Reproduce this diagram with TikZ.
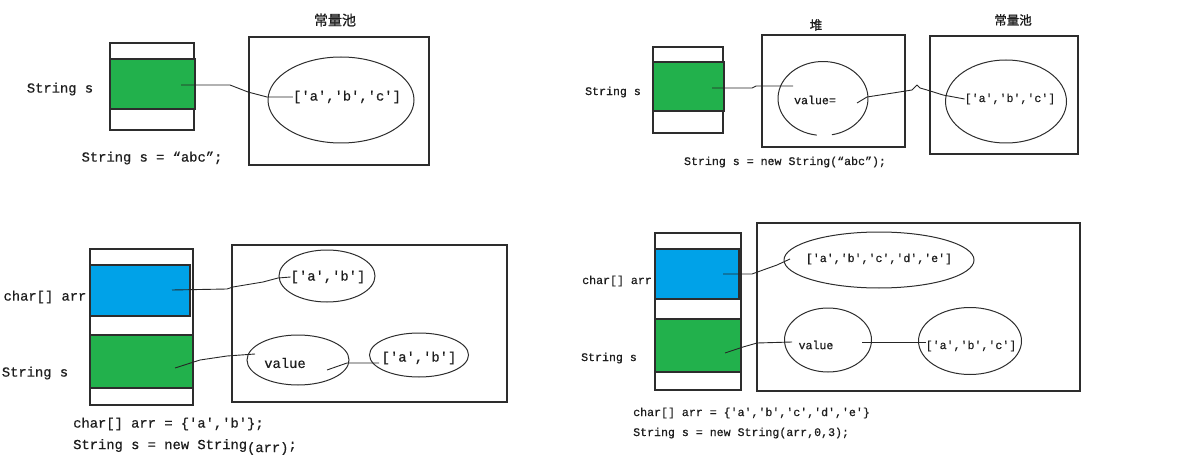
\documentclass[tikz,border=0pt]{standalone}
\usepackage{fontspec}
\newfontfamily\codefont{Liberation Mono}[FakeBold=0.6]
\newfontfamily\cjk{Noto Sans CJK SC}[FakeBold=1.2]
\usetikzlibrary{shapes.geometric}
\definecolor{pgreen}{RGB}{34,177,76}
\definecolor{pblue}{RGB}{0,162,232}
\definecolor{ink}{RGB}{45,45,45}
\definecolor{txt}{RGB}{30,30,30}
\begin{document}
\begin{tikzpicture}[x=1pt,y=-1pt,
 box/.style={rectangle, draw=ink, line width=1.2pt, inner sep=0},
 slotg/.style={box, fill=pgreen},
 slotb/.style={box, fill=pblue},
 region/.style={rectangle, draw=ink, line width=1.3pt, inner sep=0},
 oval/.style={ellipse, draw=ink, line width=1pt, inner sep=0},
 ovalline/.style={draw=ink, line width=1pt},
 big/.style={font=\codefont\fontsize{13.8}{16}\selectfont, text=txt, inner sep=0},
 small/.style={font=\codefont\fontsize{11.6}{14}\selectfont, text=txt, inner sep=0},
 zh/.style={font=\cjk\fontsize{14}{16}\selectfont, text=txt, inner sep=0},
 zhs/.style={font=\cjk\fontsize{12.5}{15}\selectfont, text=txt, inner sep=0},
 link/.style={draw=black!85, line width=0.9pt, line join=round}]
\useasboundingbox (0,0) rectangle (1193,457);

% ---------- top left ----------
\node[box, minimum width=84, minimum height=87] (stk1) at (152,86.5) {};
\node[slotg, minimum width=85, minimum height=50] (g1) at (152.5,84) {};
\node[region, minimum width=180, minimum height=128] (pool1) at (339,101) {};
\node[oval, minimum width=146, minimum height=86] (e1) at (341,100) {};
\node[big] (t1) at (347,97) {['a','b','c']};
\node[zh] (z1) at (335,20) {常量池};
\node[big] (s1) at (60,89) {String s};
\node[big] (c1) at (152,158) {String s = “abc”;};
\coordinate (a1) at (181,85);
\draw[link] (a1) -- (230,85) -- (248,92) -- (267,97) -- (t1.west);

% ---------- top right ----------
\node[box, minimum width=70, minimum height=86] (stk2) at (688,90) {};
\node[slotg, minimum width=71, minimum height=49] (g2) at (688.5,86.5) {};
\node[region, minimum width=143, minimum height=112] (heap2) at (833.5,91) {};
\node[zhs] (z2) at (816,25) {堆};
\coordinate (e2) at (823,98.5);
\draw[ovalline] (e2) ++(98:45 and 37) arc[start angle=98, end angle=438.5, x radius=45, y radius=37];
\node[small] (v2) at (815,100) {value=};
\node[region, minimum width=148, minimum height=118] (pool2) at (1004,95) {};
\node[zhs] (z3) at (1013,20) {常量池};
\node[oval, minimum width=121, minimum height=83] (e3) at (1006,101.5) {};
\node[small] (t3) at (1010,99) {['a','b','c']};
\node[small] (s2) at (613,92) {String s};
\node[small] (c2) at (785,162) {String s = new String(“abc”);};
\coordinate (a2) at (712,88);
\coordinate (b2) at (793,86);
\draw[link] (a2) -- (752,88) -- (756,86) -- (b2);
\coordinate (a3) at (857,103);
\draw[link] (a3) -- (867,97) -- (893,93) -- (912,90) -- (917,85) -- (920,88) -- (927,90) -- (943,95) -- (t3.west);

% ---------- bottom left ----------
\node[box, minimum width=103, minimum height=156] (stk3) at (141.5,327) {};
\node[slotb, minimum width=100, minimum height=51] (b3) at (140,290.5) {};
\node[slotg, minimum width=103, minimum height=53] (g3) at (141.5,361.5) {};
\node[region, minimum width=275, minimum height=157] (heap3) at (369.5,323.5) {};
\node[oval, minimum width=96, minimum height=52] (e4) at (327,276) {};
\node[big] (t4) at (328,277) {['a','b']};
\node[oval, minimum width=102, minimum height=50] (e5) at (298,360) {};
\node[big] (v5) at (285,363) {value};
\node[oval, minimum width=99, minimum height=44] (e6) at (419,355) {};
\node[big] (t6) at (419,358) {['a','b']};
\node[big] (l3a) at (45,297) {char[] arr};
\node[big] (l3b) at (35,373) {String s};
\node[big, anchor=west] (c3a) at (73,424) {char[] arr = \{'a','b'\};};
\node[big, anchor=west] (c3b) at (73,447) {String s = new String\raisebox{-3pt}{(arr)};};
\coordinate (a4) at (172,290);
\draw[link] (a4) -- (227,289) -- (233,287) -- (263,282) -- (278,278) -- (t4.west);
\coordinate (a5) at (175,368);
\coordinate (b5) at (255,354);
\draw[link] (a5) -- (200,360) -- (227,356) -- (b5);
\coordinate (a6) at (327,370);
\coordinate (b6) at (379,363);
\draw[link] (a6) -- (347,363) -- (b6);

% ---------- bottom right ----------
\node[box, minimum width=86, minimum height=157] (stk4) at (698,311.5) {};
\node[slotb, minimum width=84, minimum height=50] (b4) at (697,274) {};
\node[slotg, minimum width=86, minimum height=53] (g4) at (698,345.5) {};
\node[region, minimum width=323, minimum height=168] (heap4) at (918.5,307) {};
\node[oval, minimum width=190, minimum height=56] (e7) at (879,260) {};
\node[small] (t7) at (879,259) {['a','b','c','d','e']};
\node[oval, minimum width=87, minimum height=64] (e8) at (828,340) {};
\node[small] (v8) at (816,345) {value};
\node[oval, minimum width=103, minimum height=67] (e9) at (970,341) {};
\node[small] (t9) at (971,346) {['a','b','c']};
\node[small] (l4a) at (617,281) {char[] arr};
\node[small] (l4b) at (609,358) {String s};
\node[small, anchor=west] (c4a) at (633,413) {char[] arr = \{'a','b','c','d','e'\}};
\node[small, anchor=west] (c4b) at (633,433) {String s = new String(arr,0,3);};
\coordinate (a7) at (723,274);
\coordinate (b7) at (790,259);
\draw[link] (a7) -- (752,274) -- (763,270) -- (777,265) -- (b7);
\coordinate (a8) at (725,353);
\coordinate (b8) at (792,342);
\draw[link] (a8) -- (743,347) -- (757,343) -- (b8);
\coordinate (a9) at (862,342);
\coordinate (b9) at (926,342);
\draw[link] (a9) -- (b9);
\end{tikzpicture}
\end{document}
